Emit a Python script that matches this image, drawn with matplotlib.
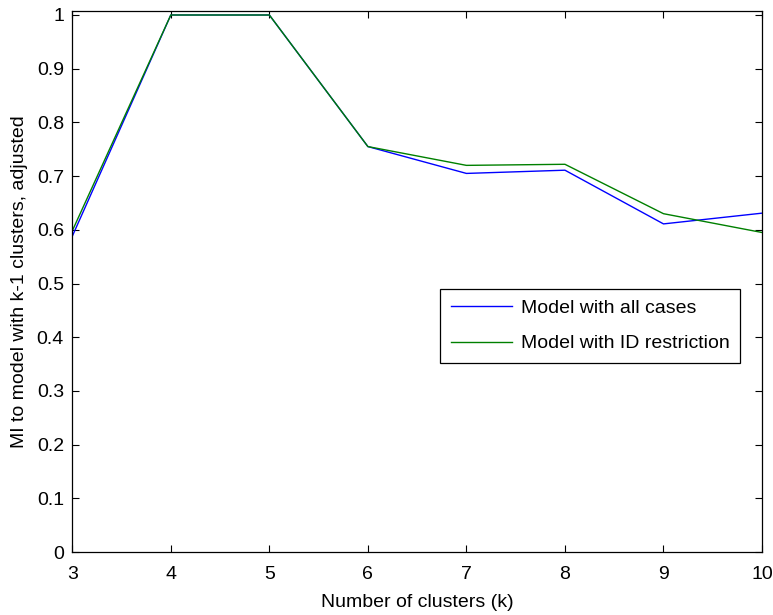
import matplotlib
matplotlib.use("Agg")
import matplotlib.pyplot as plt
from matplotlib.ticker import FuncFormatter

k_values = [3, 4, 5, 6, 7, 8, 9, 10]
mi_all_cases = [0.588, 1.0, 1.0, 0.755, 0.705, 0.711, 0.611, 0.631]
mi_id_restriction = [0.598, 1.0, 1.0, 0.755, 0.720, 0.722, 0.630, 0.595]
y_ticks = [0, 0.1, 0.2, 0.3, 0.4, 0.5, 0.6, 0.7, 0.8, 0.9, 1.0]

plt.rcParams['font.family'] = ['Liberation Sans', 'DejaVu Sans']
FS = 14
plt.rcParams['font.size'] = FS

fig = plt.figure(figsize=(7.73, 6.15), dpi=100)
ax = fig.add_axes([0.0935, 0.1024, 0.8923, 0.8802])

ax.plot(k_values, mi_all_cases, color=(0, 0, 1), lw=1.0, label='Model with all cases')
ax.plot(k_values, mi_id_restriction, color=(0, 0.5, 0), lw=1.0, label='Model with ID restriction')

ax.set_xlim(3, 10)
ax.set_ylim(0, 1.008)
ax.set_xticks(k_values)
ax.set_yticks(y_ticks)
ax.yaxis.set_major_formatter(FuncFormatter(lambda v, p: ('%g' % round(v, 2))))
ax.tick_params(direction='in', length=5, width=0.8, top=True, right=True,
               labelsize=FS)
ax.tick_params(axis='x', pad=10)
ax.tick_params(axis='y', pad=6)
for s in ax.spines.values():
    s.set_linewidth(0.9)

ax.set_xlabel('Number of clusters (k)', fontsize=FS, labelpad=8)
ax.set_ylabel('MI to model with k-1 clusters, adjusted', fontsize=FS, labelpad=6)

leg = ax.legend(loc='upper right', bbox_to_anchor=(0.968, 0.486), borderaxespad=0,
                fancybox=False, edgecolor='black', framealpha=1, fontsize=FS,
                handlelength=3.15, handletextpad=0.45, labelspacing=0.9,
                borderpad=0.55)
leg.get_frame().set_linewidth(0.9)

fig.savefig('out.png', dpi=100)
